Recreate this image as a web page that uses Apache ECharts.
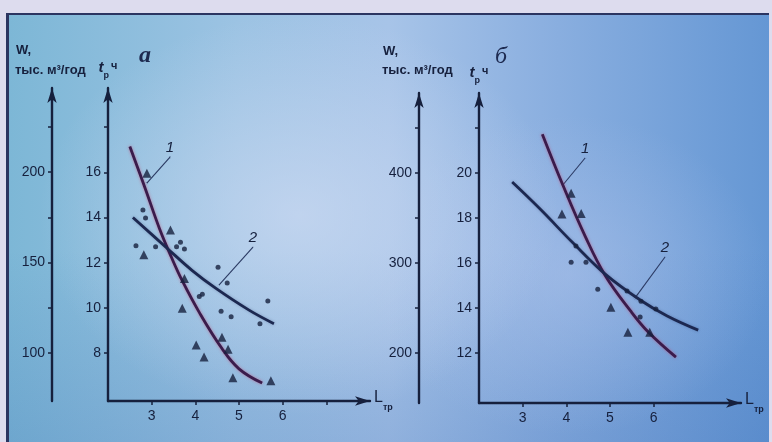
<!DOCTYPE html>
<html><head><meta charset="utf-8">
<script src="https://cdn.jsdelivr.net/npm/echarts@6/dist/echarts.min.js"></script>
<style>
html,body{margin:0;padding:0;width:772px;height:442px;overflow:hidden;background:#dddcee;}
#bg{position:absolute;left:6px;top:13px;width:763px;height:429px;box-sizing:border-box;
 border-top:2px solid #2b3561;border-left:3px solid #2b3561;
 background:
  radial-gradient(ellipse 260px 200px at 290px 200px, rgba(205,218,242,0.7), rgba(205,218,242,0) 100%),
  radial-gradient(ellipse 200px 160px at 560px 260px, rgba(175,195,235,0.5), rgba(175,195,235,0) 100%),
  linear-gradient(180deg, rgba(0,0,0,0) 55%, rgba(40,90,170,0.18) 100%),
  linear-gradient(90deg, #7db7d6 0%, #9cc3e3 30%, #a7c4e8 50%, #8cb0e0 70%, #6597d4 100%);}
#c{position:absolute;left:0;top:0;width:772px;height:442px;}
</style></head>
<body><div id="bg"></div><div id="c"></div>
<script>
// ---------- data ----------
// panel а
const xTicksA = [3,4,5,6,7];
const xLabelsA = [3,4,5,6];
const tTicksA = [8,10,12,14,16,18];
const tLabelsA = [8,10,12,14,16];
const wTicksA = [100,125,150,175,200,225];
const wLabelsA = [100,150,200];
const curve1A = [[2.5,17.14],[2.84,15.35],[3.18,13.5],[3.45,12.25],[3.70,11.2],[4.09,9.8],[4.61,8.2],[5.0,7.3],[5.53,6.67]];
const curve2A = [[2.57,14.0],[3.34,12.66],[3.93,11.65],[4.48,10.85],[5.23,9.9],[5.8,9.3]];
const trianglesA = [[2.89,15.96],[3.43,13.45],[2.82,12.35],[3.75,11.3],[3.70,9.98],[4.02,8.35],[4.20,7.82],[4.61,8.7],[4.75,8.17],[4.86,6.9],[5.73,6.77]];
const dotsA = [[2.80,14.33],[2.86,13.98],[2.64,12.75],[3.09,12.7],[3.57,12.7],[3.66,12.9],[3.75,12.6],[4.52,11.8],[4.73,11.1],[4.09,10.5],[4.16,10.6],[4.59,9.85],[4.82,9.6],[5.66,10.3],[5.48,9.3]];
const leader1A = [[2.89,15.52],[3.42,16.67]];
const leader2A = [[4.54,11.0],[5.32,12.69]];
// panel б
const xTicksB = [3,4,5,6];
const xLabelsB = [3,4,5,6];
const tTicksB = [12,14,16,18,20,22];
const tLabelsB = [12,14,16,18,20];
const wTicksB = [200,250,300,350,400,450];
const wLabelsB = [200,300,400];
const curve1B = [[3.45,21.73],[3.92,19.47],[4.43,17.2],[4.89,15.45],[5.48,13.85],[5.87,12.95],[6.51,11.82]];
const curve2B = [[2.76,19.6],[3.40,18.4],[4.15,16.9],[4.89,15.51],[5.69,14.36],[6.31,13.65],[7.02,13.02]];
const trianglesB = [[4.11,19.1],[3.90,18.18],[4.34,18.2],[5.02,14.04],[5.41,12.93],[5.91,12.93]];
const dotsB = [[4.22,16.76],[4.11,16.04],[4.45,16.04],[4.72,14.84],[5.39,14.76],[5.71,14.3],[6.05,13.96],[5.69,13.6]];
const leader1B = [[3.92,19.47],[4.43,20.67]];
const leader2B = [[5.57,14.44],[6.26,16.27]];

// ---------- styles ----------
const INK = '#16203d';
const FONT = '"Liberation Sans Narrow","Arial Narrow","Liberation Sans",sans-serif';
const axLine = {show:true, symbol:['none','arrow'], symbolSize:[7,15], lineStyle:{color:INK, width:2.4}};

function xAx(grid, ticks, labels){
  return {type:'value', gridIndex:grid, min:2, max:8,
    name:'{l|L}{s|тр}', nameLocation:'end', nameGap:4,
    nameTextStyle:{rich:{l:{fontSize:16, color:INK, fontFamily:FONT, verticalAlign:'top', lineHeight:22},
                         s:{fontSize:9, fontWeight:'bold', color:INK, fontFamily:FONT, verticalAlign:'bottom', lineHeight:22}}},
    axisLine:axLine, splitLine:{show:false},
    axisTick:{show:true, customValues:ticks, length:4, lineStyle:{color:INK, width:1.5}},
    axisLabel:{show:true, customValues:labels, margin:8, color:INK, fontSize:14, fontFamily:FONT}};
}
function yAx(grid, min, max, ticks, labels, offset, name){
  const o = {type:'value', gridIndex:grid, min:min, max:max, position:'left', offset:offset,
    axisLine:axLine, splitLine:{show:false},
    axisTick:{show:true, customValues:ticks, length:4, lineStyle:{color:INK, width:1.5}},
    axisLabel:{show:true, customValues:labels, margin:7, color:INK, fontSize:14, fontFamily:FONT}};
  if (name){
    o.name = '{t|t}{p|р}{c|ч}';
    o.nameLocation = 'end';
    o.nameGap = 8;
    o.nameTextStyle = {rich:{
      t:{fontSize:15, fontStyle:'italic', fontWeight:'bold', color:INK, fontFamily:'"Liberation Sans",sans-serif', verticalAlign:'top', lineHeight:20},
      p:{fontSize:9, fontWeight:'bold', color:INK, fontFamily:FONT, verticalAlign:'bottom', lineHeight:20, padding:[0,2,0,0]},
      c:{fontSize:11, fontWeight:'bold', color:INK, fontFamily:FONT, verticalAlign:'top', lineHeight:20}}};
  }
  return o;
}
function curve(xi, yi, data, color, glow){
  return {type:'line', xAxisIndex:xi, yAxisIndex:yi, data:data, smooth:0.4, showSymbol:false, z:3,
    lineStyle:{color:color, width:2.8, shadowColor:glow, shadowBlur:3}};
}
function pts(xi, yi, data, sym, size){
  return {type:'scatter', xAxisIndex:xi, yAxisIndex:yi, data:data, symbol:sym, symbolSize:size, z:4,
    itemStyle:{color:INK}};
}
function leader(xi, yi, data, text){
  const d = data.map((p,i)=> i===data.length-1 ?
     {value:p, label:{show:true, formatter:text, position:'top', distance:1, color:INK, fontSize:15, fontStyle:'italic', fontFamily:'"Liberation Sans",sans-serif'}} : {value:p});
  return {type:'line', xAxisIndex:xi, yAxisIndex:yi, data:d, showSymbol:true, symbolSize:0.1, z:2,
    lineStyle:{color:'#2b3a63', width:1.1}, itemStyle:{color:'#2b3a63'}};
}

// ---------- chart ----------
const chart = echarts.init(document.getElementById('c'), null, {renderer:'canvas'});
chart.setOption({
  backgroundColor:'transparent',
  animation:false,
  grid:[{left:108, top:88, width:262, height:313},
        {left:479, top:93, width:262, height:310}],
  xAxis:[xAx(0, xTicksA, xLabelsA), xAx(1, xTicksB, xLabelsB)],
  yAxis:[yAx(0, 5.876, 19.73, tTicksA, tLabelsA, 0, true),
         yAx(0, 73.45, 246.6, wTicksA, wLabelsA, 56, false),
         yAx(1, 9.78, 23.56, tTicksB, tLabelsB, 0, true),
         yAx(1, 144.5, 489, wTicksB, wLabelsB, 60, false)],
  series:[
    curve(0,0,curve1A,'#3a1c4c','rgba(200,50,90,0.55)'),
    curve(0,0,curve2A,'#1c2850','rgba(30,40,90,0.3)'),
    pts(0,0,trianglesA,'triangle',9),
    pts(0,0,dotsA,'circle',5),
    leader(0,0,leader1A,'1'),
    leader(0,0,leader2A,'2'),
    curve(1,2,curve1B,'#3a1c4c','rgba(200,50,90,0.55)'),
    curve(1,2,curve2B,'#1c2850','rgba(30,40,90,0.3)'),
    pts(1,2,trianglesB,'triangle',9),
    pts(1,2,dotsB,'circle',5),
    leader(1,2,leader1B,'1'),
    leader(1,2,leader2B,'2')
  ],
  graphic:[
    {type:'text', left:16, top:44, style:{text:'W,', fill:INK, font:'bold 13px '+FONT}},
    {type:'text', left:15, top:64, style:{text:'тыс. м³/год', fill:INK, font:'bold 13px '+FONT}},
    {type:'text', left:139, top:44, style:{text:'а', fill:'#1d2a50', font:'italic bold 24px "Liberation Serif",serif'}},
    {type:'text', left:383, top:45, style:{text:'W,', fill:INK, font:'bold 13px '+FONT}},
    {type:'text', left:382, top:64, style:{text:'тыс. м³/год', fill:INK, font:'bold 13px '+FONT}},
    {type:'text', left:495, top:45, style:{text:'б', fill:'#1d2a50', font:'italic 24px "Liberation Serif",serif'}}
  ]
});
</script></body></html>
